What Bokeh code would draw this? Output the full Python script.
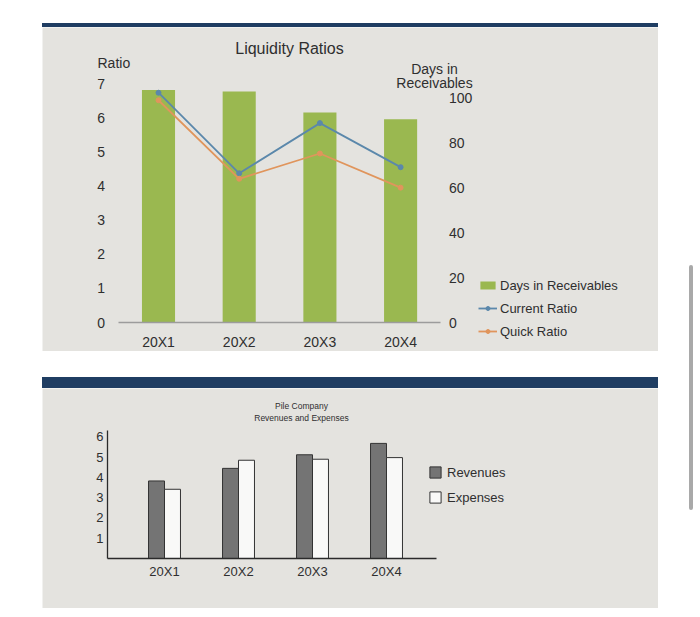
from bokeh.plotting import figure
from bokeh.models import (Range1d, LinearAxis, FixedTicker, Legend,
                          LegendItem, Label, Div, ColumnDataSource)
from bokeh.layouts import column, row
from bokeh.transform import dodge
from bokeh.embed import file_html
from bokeh.resources import INLINE

# ---------------- data ----------------
years = ["20X1", "20X2", "20X3", "20X4"]
days_in_receivables = [103.5, 102.8, 93.5, 90.5]
current_ratio = [6.73, 4.37, 5.84, 4.55]
quick_ratio = [6.51, 4.21, 4.95, 3.95]
ratio_ticks = [0, 1, 2, 3, 4, 5, 6, 7]
days_ticks = [0, 20, 40, 60, 80, 100]

revenues = [3.82, 4.44, 5.11, 5.67]
expenses = [3.41, 4.84, 4.89, 4.97]
amount_ticks = [1, 2, 3, 4, 5, 6]

# ---------------- style ----------------
FONT = "Liberation Sans"
PANEL = "#e4e3df"
TXT = "#2f2f2f"
GREEN = "#9ab850"
BLUE = "#5b88ab"
ORANGE = "#e0955c"
NAVY = "#1f3d62"

pos = list(range(1, len(years) + 1))
labels_map = {i: y for i, y in zip(pos, years)}

# ---------------- top chart ----------------
W1, H1 = 616, 324
px_x1 = 80.7          # pixels per category
x0_1 = 116            # pixels from figure left to category 1 centre
px_y1 = 34.14         # pixels per ratio unit
base1 = 295           # pixels from figure top to zero line
days_per_ratio = 15.2

src1 = ColumnDataSource(dict(x=pos, days=days_in_receivables,
                             cur=current_ratio, quick=quick_ratio))

xr1 = Range1d(1 - x0_1 / px_x1, 1 + (W1 - x0_1) / px_x1)
yr1 = Range1d(-(H1 - base1) / px_y1, base1 / px_y1)
p1 = figure(width=W1, height=H1, x_range=xr1, y_range=yr1,
            output_backend="svg", toolbar_location=None, min_border=0,
            x_axis_type=None, y_axis_type=None,
            background_fill_color=PANEL, border_fill_color=PANEL,
            outline_line_color=None)
p1.extra_y_ranges = {"days": Range1d(yr1.start * days_per_ratio,
                                     yr1.end * days_per_ratio)}
p1.grid.visible = False

bars = p1.vbar(x="x", top="days", width=0.41, source=src1,
               y_range_name="days", fill_color=GREEN, line_color=None)
l_cur = p1.line(x="x", y="cur", source=src1, line_color=BLUE, line_width=1.8)
s_cur = p1.scatter(x="x", y="cur", source=src1, marker="circle", size=5,
                   fill_color=BLUE, line_color=BLUE)
l_q = p1.line(x="x", y="quick", source=src1, line_color=ORANGE, line_width=1.8)
s_q = p1.scatter(x="x", y="quick", source=src1, marker="circle", size=5,
                 fill_color=ORANGE, line_color=ORANGE)

def style_axis(ax, size):
    ax.major_tick_line_color = None
    ax.minor_tick_line_color = None
    ax.major_tick_out = 0
    ax.major_tick_in = 0
    ax.major_label_text_font = FONT
    ax.major_label_text_font_size = size
    ax.major_label_text_color = TXT

xa1 = LinearAxis(ticker=FixedTicker(ticks=pos), major_label_overrides=labels_map,
                 fixed_location=0, bounds=(0.5, 4.5))
style_axis(xa1, "14px")
xa1.axis_line_color = "#9c9c9c"
xa1.axis_line_width = 1.5
xa1.major_label_standoff = 11
p1.add_layout(xa1, "below")

ya1 = LinearAxis(ticker=FixedTicker(ticks=ratio_ticks), fixed_location=0.5)
style_axis(ya1, "14px")
ya1.axis_line_color = None
ya1.major_label_standoff = 13
p1.add_layout(ya1, "left")

ra1 = LinearAxis(y_range_name="days", ticker=FixedTicker(ticks=days_ticks),
                 fixed_location=4.5)
style_axis(ra1, "14px")
ra1.axis_line_color = None
ra1.major_label_standoff = 8
p1.add_layout(ra1, "right")

def lab(p, text, x, y, size, align="center"):
    p.add_layout(Label(x=x, y=y, x_units="screen", y_units="screen", text=text,
                       text_font=FONT, text_font_size=size, text_color=TXT,
                       text_align=align, text_baseline="middle"))

lab(p1, "Liquidity Ratios", 247, 303, "16px")
lab(p1, "Ratio", 55, 289, "14px", align="left")
lab(p1, "Days in", 392, 283, "14px")
lab(p1, "Receivables", 392, 269, "14px")

leg1 = Legend(items=[LegendItem(label="Days in Receivables", renderers=[bars]),
                     LegendItem(label="Current Ratio", renderers=[l_cur, s_cur]),
                     LegendItem(label="Quick Ratio", renderers=[l_q, s_q])],
              location=(436, 10), margin=0, padding=0, spacing=3,
              glyph_width=19, glyph_height=10, label_height=20,
              label_standoff=3, label_text_font=FONT,
              label_text_font_size="13px", label_text_color=TXT,
              border_line_color=None, background_fill_alpha=0)
p1.add_layout(leg1)

# ---------------- bottom chart ----------------
W2, H2 = 616, 220
px_x2 = 74.0
x0_2 = 122
px_y2 = 20.3
base2 = 170

src2 = ColumnDataSource(dict(x=pos, rev=revenues, exp=expenses))
xr2 = Range1d(1 - x0_2 / px_x2, 1 + (W2 - x0_2) / px_x2)
yr2 = Range1d(-(H2 - base2) / px_y2, base2 / px_y2)
p2 = figure(width=W2, height=H2, x_range=xr2, y_range=yr2,
            output_backend="svg", toolbar_location=None, min_border=0,
            x_axis_type=None, y_axis_type=None,
            background_fill_color=PANEL, border_fill_color=PANEL,
            outline_line_color=None)
p2.grid.visible = False

b_rev = p2.vbar(x=dodge("x", -0.108), top="rev", width=0.216,
                source=src2, fill_color="#747474", line_color="#333333",
                line_width=1)
b_exp = p2.vbar(x=dodge("x", 0.108), top="exp", width=0.216,
                source=src2, fill_color="#f9f9f8", line_color="#333333",
                line_width=1)

x_left2 = 1 - 57 / px_x2
x_right2 = 1 + 272 / px_x2
xa2 = LinearAxis(ticker=FixedTicker(ticks=pos), major_label_overrides=labels_map,
                 fixed_location=0, bounds=(x_left2, x_right2))
ya2 = LinearAxis(ticker=FixedTicker(ticks=amount_ticks), fixed_location=x_left2,
                 bounds=(0, 6.3))
for ax in (xa2, ya2):
    style_axis(ax, "13px")
    ax.axis_line_color = "#2a2a2a"
    ax.axis_line_width = 1.3
ya2.major_label_standoff = 4
xa2.major_label_standoff = 5
p2.add_layout(xa2, "below")
p2.add_layout(ya2, "left")

lab(p2, "Pile Company", 259, 203, "8.5px")
lab(p2, "Revenues and Expenses", 259, 191, "8.5px")

leg2 = Legend(items=[LegendItem(label="Revenues", renderers=[b_rev]),
                     LegendItem(label="Expenses", renderers=[b_exp])],
              location=(386, 101), margin=0, padding=0, spacing=5,
              glyph_width=14, glyph_height=14, label_height=20,
              label_standoff=5, label_text_font=FONT,
              label_text_font_size="13px", label_text_color=TXT,
              border_line_color=None, background_fill_alpha=0)
p2.add_layout(leg2)

# ---------------- page ----------------
band1 = Div(text="", width=616, height=4, margin=(23, 0, 0, 42),
            styles={"background-color": NAVY})
band2 = Div(text="", width=616, height=11, margin=(26, 0, 0, 42),
            styles={"background-color": NAVY})
p1.margin = (0, 0, 0, 42)
p2.margin = (0, 0, 0, 42)
scroll = Div(text="", width=4, height=245, margin=(265, 0, 0, 31),
             styles={"background-color": "#a9a9a9", "border-radius": "2px"})

layout = row(column(band1, p1, band2, p2), scroll)

with open("out.html", "w") as f:
    f.write(file_html(layout, INLINE))
